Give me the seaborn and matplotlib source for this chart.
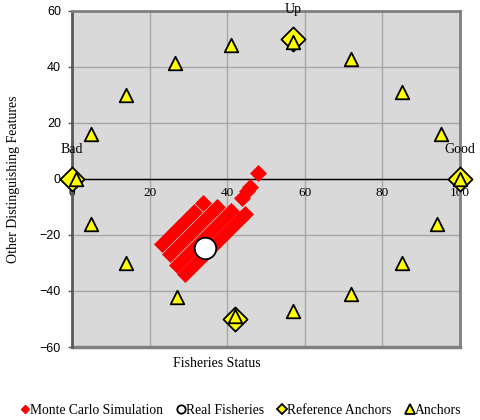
import matplotlib
matplotlib.use("Agg")
import matplotlib.pyplot as plt
import seaborn as sns
import pandas as pd
from matplotlib.lines import Line2D

# ---- data ----
mc_x = [23.2, 25.3, 27.4, 29.4, 31.5, 33.8,
        25.3, 27.4, 29.4, 31.5, 33.6, 35.6, 37.4,
        27.1, 29.2, 31.2, 33.3, 35.4, 37.4, 39.5, 41.0,
        29.2, 31.2, 33.3, 35.4, 37.4, 39.5, 41.6, 43.6, 44.7,
        43.9, 45.2, 46.0, 48.0]
mc_y = [-23.2, -20.4, -17.5, -14.6, -11.8, -8.6,
        -26.8, -23.9, -21.1, -18.2, -15.4, -12.5, -10.0,
        -30.7, -27.9, -25.0, -22.1, -19.3, -16.4, -13.6, -11.4,
        -33.9, -31.1, -28.2, -25.4, -22.5, -19.6, -16.8, -13.9, -12.5,
        -6.8, -4.3, -2.9, 2.1]
real_x = [34.4]
real_y = [-24.8]
ref_x = [0, 100, 57, 42]
ref_y = [0, 0, 50, -50]
ref_names = ["Bad", "Good", "Up", ""]
anc_x = [1, 5, 14, 26.5, 41, 57, 72, 85, 95, 100, 94, 85, 72, 57, 42, 27, 14, 5]
anc_y = [0, 16, 30, 41.5, 48, 49, 43, 31, 16, 0, -16, -30, -41, -47, -49, -42, -30, -16]
x_ticks = [0, 20, 40, 60, 80, 100]
y_ticks = [-60, -40, -20, 0, 20, 40, 60]
series_names = ["Monte Carlo Simulation", "Real Fisheries", "Reference Anchors", "Anchors"]

SERIF = ["Liberation Serif", "DejaVu Serif"]
SANS = ["Liberation Sans", "DejaVu Sans"]

fig = plt.figure(figsize=(4.8, 4.2), dpi=100)
ax = fig.add_axes([72 / 480, 1 - 347 / 420, 388 / 480, 336 / 420])
ax.set_facecolor("#d9d9d9")

mc = pd.DataFrame({"x": mc_x, "y": mc_y})
real = pd.DataFrame({"x": real_x, "y": real_y})
ref = pd.DataFrame({"x": ref_x, "y": ref_y})
anc = pd.DataFrame({"x": anc_x, "y": anc_y})

sns.scatterplot(data=mc, x="x", y="y", ax=ax, marker="D", s=75, color="#ff0000",
                edgecolor="#ff0000", linewidth=0, zorder=3, clip_on=False)
sns.scatterplot(data=real, x="x", y="y", ax=ax, marker="o", s=240, color="white",
                edgecolor="black", linewidth=1.3, zorder=4, clip_on=False)
sns.scatterplot(data=ref, x="x", y="y", ax=ax, marker="D", s=150, color="#ffff00",
                edgecolor="black", linewidth=1.3, zorder=5, clip_on=False)
sns.scatterplot(data=anc, x="x", y="y", ax=ax, marker="^", s=95, color="#ffff00",
                edgecolor="black", linewidth=1.3, zorder=6, clip_on=False)

for xv, yv, name in zip(ref_x, ref_y, ref_names):
    if name:
        ax.annotate(name, (xv, yv), xytext=(0, 21), textcoords="offset points",
                    ha="center", va="center", fontsize=10, family=SERIF,
                    annotation_clip=False, zorder=7)

ax.set_xlim(0, 100)
ax.set_ylim(-60, 60)
ax.set_xticks(x_ticks)
ax.set_yticks(y_ticks)
ax.grid(True, color="#a6a6a6", linewidth=1.0)
ax.set_axisbelow(True)

# frame
for side in ["top", "right"]:
    ax.spines[side].set_color("#808080")
    ax.spines[side].set_linewidth(2)
ax.spines["left"].set_color("#595959")
ax.spines["left"].set_linewidth(2)
# x axis crosses at y = 0
ax.spines["bottom"].set_position(("data", 0))
ax.spines["bottom"].set_color("black")
ax.spines["bottom"].set_linewidth(1.0)
ax.spines["bottom"].set_zorder(2)
# bottom edge of the plot frame
ax.axhline(-60, color="#808080", linewidth=2.5, clip_on=False, zorder=2)

ax.tick_params(axis="x", length=0, pad=6, labelsize=9.5)
for lab in ax.get_xticklabels():
    lab.set_family(SERIF)
ax.tick_params(axis="y", length=3, width=1, color="#595959", pad=5, labelsize=9)
for lab in ax.get_yticklabels():
    lab.set_family(SANS)

ax.set_xlabel("Fisheries Status", fontsize=10, family=SERIF)
ax.set_ylabel("Other Distinguishing Features", fontsize=10, family=SERIF)
ax.xaxis.set_label_coords(0.374, -0.03)
ax.yaxis.set_label_coords(-0.135, 0.5)

handles = [
    Line2D([], [], linestyle="none", marker="D", markersize=4.5, color="#ff0000"),
    Line2D([], [], linestyle="none", marker="o", markersize=6, markerfacecolor="white",
           markeredgecolor="black", markeredgewidth=1.3),
    Line2D([], [], linestyle="none", marker="D", markersize=5.5, markerfacecolor="#ffff00",
           markeredgecolor="black", markeredgewidth=1.3),
    Line2D([], [], linestyle="none", marker="^", markersize=7, markerfacecolor="#ffff00",
           markeredgecolor="black", markeredgewidth=1.3),
]
fig.legend(handles, series_names, loc="center", bbox_to_anchor=(0.503, 0.023), ncol=4,
           frameon=False, handlelength=0.5, handletextpad=0.1, columnspacing=1.1,
           prop={"family": SERIF, "size": 9.8})

fig.savefig("out.png", dpi=100)
